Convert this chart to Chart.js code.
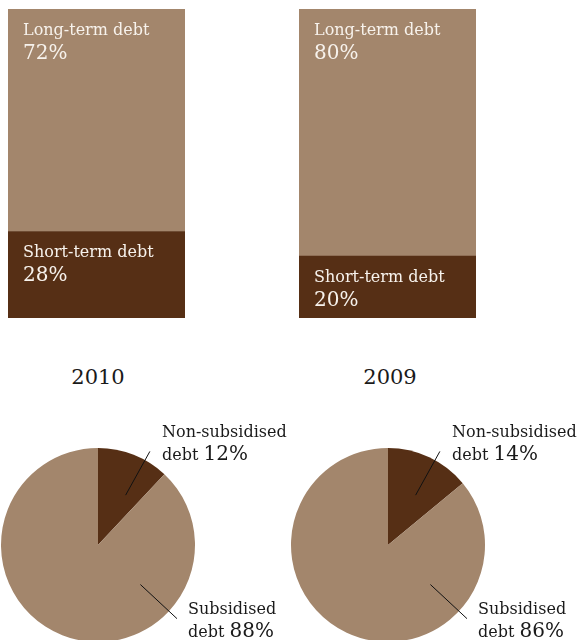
<!DOCTYPE html>
<html>
<head>
<meta charset="utf-8">
<title>Debt structure</title>
<script src="https://cdn.jsdelivr.net/npm/chart.js@4"></script>
<style>
  html, body { margin: 0; padding: 0; background: #fff; overflow: hidden; }
  body { width: 578px; height: 640px; position: relative; font-family: 'DejaVu Serif', serif; }
  canvas { position: absolute; }
  .year { position: absolute; width: 120px; text-align: center; font-size: 21px; color: #1a1a1a; top: 365px; }
</style>
</head>
<body>
<canvas id="bar2010" width="177" height="309" style="left:8px;top:9px"></canvas>
<canvas id="bar2009" width="177" height="309" style="left:299px;top:9px"></canvas>
<div class="year" style="left:38px">2010</div>
<div class="year" style="left:330px">2009</div>
<canvas id="pie2010" width="289" height="230" style="left:0px;top:420px"></canvas>
<canvas id="pie2009" width="289" height="230" style="left:289px;top:420px"></canvas>

<script>
const years = ['2010', '2009'];
const termLabels = ['Long-term debt', 'Short-term debt'];
const longTerm = [72, 80];
const shortTerm = [28, 20];
const subsidyLabels = ['Non-subsidised', 'Subsidised'];
const nonSubsidised = [12, 14];
const subsidised = [88, 86];

const LIGHT = 'rgb(163,134,108)';
const DARK = 'rgb(86,47,21)';
const SERIF = "'DejaVu Serif', serif";

// writes "name" and "NN%" inside each stacked segment, top-left aligned
const segmentLabels = {
    id: 'segmentLabels',
    afterDatasetsDraw(chart) {
        const ctx = chart.ctx;
        ctx.save();
        ctx.fillStyle = '#f7f2ec';
        ctx.textBaseline = 'alphabetic';
        ctx.textAlign = 'left';
        chart.data.datasets.forEach((ds, i) => {
            const bar = chart.getDatasetMeta(i).data[0];
            const left = bar.x - bar.width / 2 + 15;
            const top = Math.min(bar.y, bar.base);
            ctx.font = '16px ' + SERIF;
            ctx.fillText(ds.label, left, top + 26);
            ctx.font = '20px ' + SERIF;
            ctx.fillText(ds.data[0] + '%', left, top + 50);
        });
        ctx.restore();
    }
};

function drawBar(id, idx) {
    new Chart(document.getElementById(id), {
        type: 'bar',
        data: {
            labels: [years[idx]],
            datasets: [
                { label: termLabels[1], data: [shortTerm[idx]], backgroundColor: DARK },
                { label: termLabels[0], data: [longTerm[idx]], backgroundColor: LIGHT }
            ]
        },
        options: {
            responsive: false,
            animation: false,
            layout: { padding: 0 },
            barPercentage: 1,
            categoryPercentage: 1,
            borderWidth: 0,
            scales: {
                x: { stacked: true, display: false },
                y: { stacked: true, display: false, min: 0, max: 100 }
            },
            plugins: { legend: { display: false }, tooltip: { enabled: false } }
        },
        plugins: [segmentLabels]
    });
}

// leader lines and two-line captions next to the pie
const pieCallouts = {
    id: 'pieCallouts',
    afterDatasetsDraw(chart, args, opts) {
        const ctx = chart.ctx;
        const arc = chart.getDatasetMeta(0).data[0];
        const cx = arc.x, cy = arc.y;
        const values = chart.data.datasets[0].data;
        ctx.save();
        opts.items.forEach((it, i) => {
            const a = it.angle * Math.PI / 180;
            ctx.beginPath();
            ctx.moveTo(cx + it.r0 * Math.sin(a), cy - it.r0 * Math.cos(a));
            ctx.lineTo(cx + it.r1 * Math.sin(a), cy - it.r1 * Math.cos(a));
            ctx.strokeStyle = '#111';
            ctx.lineWidth = 1;
            ctx.stroke();

            const tx = cx + it.dx;
            const ty = cy + it.dy;
            ctx.fillStyle = '#1a1a1a';
            ctx.textAlign = 'left';
            ctx.font = '16px ' + SERIF;
            ctx.fillText(chart.data.labels[i], tx, ty);
            ctx.fillText('debt ', tx, ty + 23);
            const w = ctx.measureText('debt ').width;
            ctx.font = '20px ' + SERIF;
            ctx.fillText(values[i] + '%', tx + w, ty + 23);
        });
        ctx.restore();
    }
};

function drawPie(id, idx, padLeft) {
    return new Chart(document.getElementById(id), {
        type: 'pie',
        data: {
            labels: subsidyLabels,
            datasets: [{
                data: [nonSubsidised[idx], subsidised[idx]],
                backgroundColor: [DARK, LIGHT],
                borderWidth: 0
            }]
        },
        options: {
            responsive: false,
            animation: false,
            layout: { padding: { left: padLeft, top: 28, right: 95 - padLeft, bottom: 8 } },
            plugins: {
                legend: { display: false },
                tooltip: { enabled: false },
                pieCallouts: {
                    items: [
                        { angle: 29, r0: 57, r1: 107, dx: 64, dy: -108 },
                        { angle: 133, r0: 58, r1: 108, dx: 90, dy: 69 }
                    ]
                }
            }
        },
        plugins: [pieCallouts]
    });
}

drawBar('bar2010', 0);
drawBar('bar2009', 1);
drawPie('pie2010', 0, 1);
drawPie('pie2009', 1, 2);
</script>
</body>
</html>
